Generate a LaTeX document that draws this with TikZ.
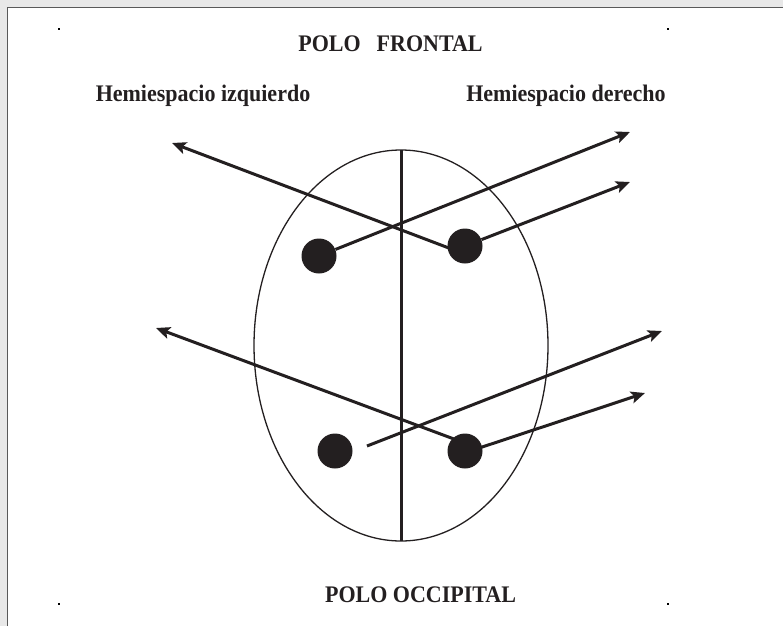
\documentclass[tikz,border=0pt]{standalone}
\usepackage{fontspec}
\setmainfont{Liberation Serif}
\usetikzlibrary{arrows.meta,shapes.geometric}
\definecolor{ink}{HTML}{231F20}
\tikzset{
  lbl/.style={font=\bfseries\fontsize{22}{24}\selectfont, text=ink, inner sep=0pt, anchor=base, yscale=1.08},
  dot/.style={circle, fill=ink, draw=none, minimum size=35pt, inner sep=0pt},
  arr/.style={draw=ink, line width=3pt, -{Stealth[length=14pt,width=12pt,inset=3pt]}},
  tick/.style={fill=black, inner sep=0pt, minimum size=1.2pt}
}
\begin{document}
\begin{tikzpicture}[x=1pt,y=-1pt]
\useasboundingbox (0,0) rectangle (783,626);
% page shadow and border
\fill[gray!18] (0,0) rectangle (783,7);
\fill[gray!18] (0,0) rectangle (7,626);
\draw[gray!70!black, line width=1.6pt] (7.5,626) -- (7.5,7.5) -- (783,7.5);
% corner marks
\node[tick] (m1) at (59,29) {};
\node[tick] (m2) at (668,29) {};
\node[tick] (m3) at (59,604) {};
\node[tick] (m4) at (668,604) {};
% texts
\node[lbl] (front) at (390.5,52) {POLO\hspace{16pt}FRONTAL};
\node[lbl] (hizq) at (203,101) {Hemiespacio izquierdo};
\node[lbl] (hder) at (566,101) {Hemiespacio derecho};
\node[lbl] (occ) at (420.5,602) {POLO OCCIPITAL};
% head
\node[draw=ink, line width=1.3pt, ellipse, minimum width=294pt, minimum height=391pt, inner sep=0pt] (head) at (401,345.5) {};
\coordinate (top) at (401,150);
\coordinate (bot) at (401,541);
\draw[ink, line width=3pt] (top) -- (bot);
% dots
\node[dot] (d1) at (319,256) {};
\node[dot] (d2) at (465,246) {};
\node[dot] (d3) at (335,451) {};
\node[dot] (d4) at (465,451) {};
% arrow ends
\coordinate (s1) at (462,253);
\coordinate (t1) at (172,143);
\coordinate (t2) at (630,132);
\coordinate (t3) at (630,182);
\coordinate (s4) at (462,442);
\coordinate (t4) at (156,328);
\coordinate (s5) at (367,446);
\coordinate (t5) at (662,331);
\coordinate (s6) at (449,458);
\coordinate (t6) at (645,393);
% arrows
\draw[arr] (s1) -- (t1);
\draw[arr] (d1) -- (t2);
\draw[arr] (d2) -- (t3);
\draw[arr] (s4) -- (t4);
\draw[arr] (s5) -- (t5);
\draw[arr] (s6) -- (t6);
\end{tikzpicture}
\end{document}
